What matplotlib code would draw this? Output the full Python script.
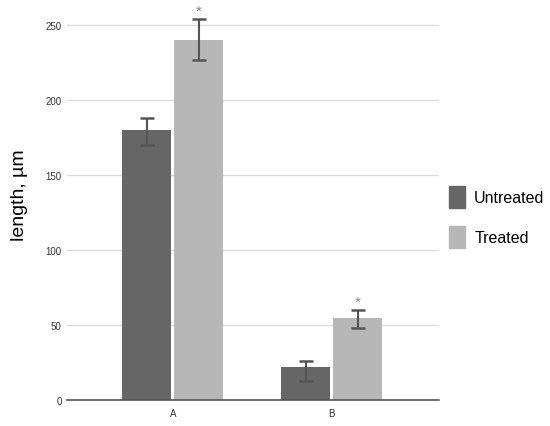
import matplotlib
matplotlib.use("Agg")
import matplotlib.pyplot as plt
from matplotlib.patches import Patch
import numpy as np

categories = ["A", "B"]
series_names = ["Untreated", "Treated"]
untreated = [180, 22]
treated = [240, 54.5]
untreated_err_low = [10, 9.5]
untreated_err_high = [8, 3.5]
treated_err_low = [13.5, 7]
treated_err_high = [14, 5.5]
yticks = [0, 50, 100, 150, 200, 250]

font = "Liberation Sans"

dark = "#666666"
light = "#b7b7b7"
errc = "#555555"

fig = plt.figure(figsize=(5.5, 4.27), dpi=100)
ax = fig.add_axes([0.122, 0.062, 0.676, 0.920])

x = np.arange(len(categories))
w = 0.31
off = 0.163
ax.bar(x - off, untreated, w, color=dark, zorder=3)
ax.bar(x + off, treated, w, color=light, zorder=3)
ax.errorbar(x - off, untreated, yerr=[untreated_err_low, untreated_err_high],
            fmt="none", ecolor=errc, elinewidth=1.5, capsize=5, capthick=1.8, zorder=4)
ax.errorbar(x + off, treated, yerr=[treated_err_low, treated_err_high],
            fmt="none", ecolor=errc, elinewidth=1.5, capsize=5, capthick=1.8, zorder=4)
for i in range(len(categories)):
    top = treated[i] + treated_err_high[i]
    ax.text(x[i] + off, top + 0.5, "*", ha="center", va="bottom",
            fontsize=11, color="#888888", family=font)

ax.set_xlim(-0.665, 1.675)
ax.set_ylim(0, 262)
ax.set_yticks(yticks)
ax.set_xticks(x)
ax.set_xticklabels(categories)
ax.tick_params(axis="both", length=0, labelsize=7, colors="#333333")
ax.tick_params(axis="y", pad=4)
ax.tick_params(axis="x", pad=6)
for lab in ax.get_xticklabels() + ax.get_yticklabels():
    lab.set_family(font)
ax.grid(axis="y", color="#dddddd", linewidth=1, zorder=0)
for s in ["top", "right", "left"]:
    ax.spines[s].set_visible(False)
ax.spines["bottom"].set_color("#555555")
ax.spines["bottom"].set_linewidth(1.2)
ax.spines["bottom"].set_zorder(5)

fig.text(0.036, 0.542, "length, µm", rotation=90, ha="center", va="center",
         fontsize=14, color="black", family=font)

handles = [Patch(facecolor=dark, edgecolor=dark), Patch(facecolor=light, edgecolor=light)]
leg = fig.legend(handles, series_names, loc="center left", bbox_to_anchor=(0.791, 0.489),
                 frameon=False, handlelength=0.95, handleheight=1.7, handletextpad=0.6,
                 labelspacing=1.15, prop={"family": font, "size": 11.5})

fig.savefig("out.png", dpi=100, facecolor="white")
